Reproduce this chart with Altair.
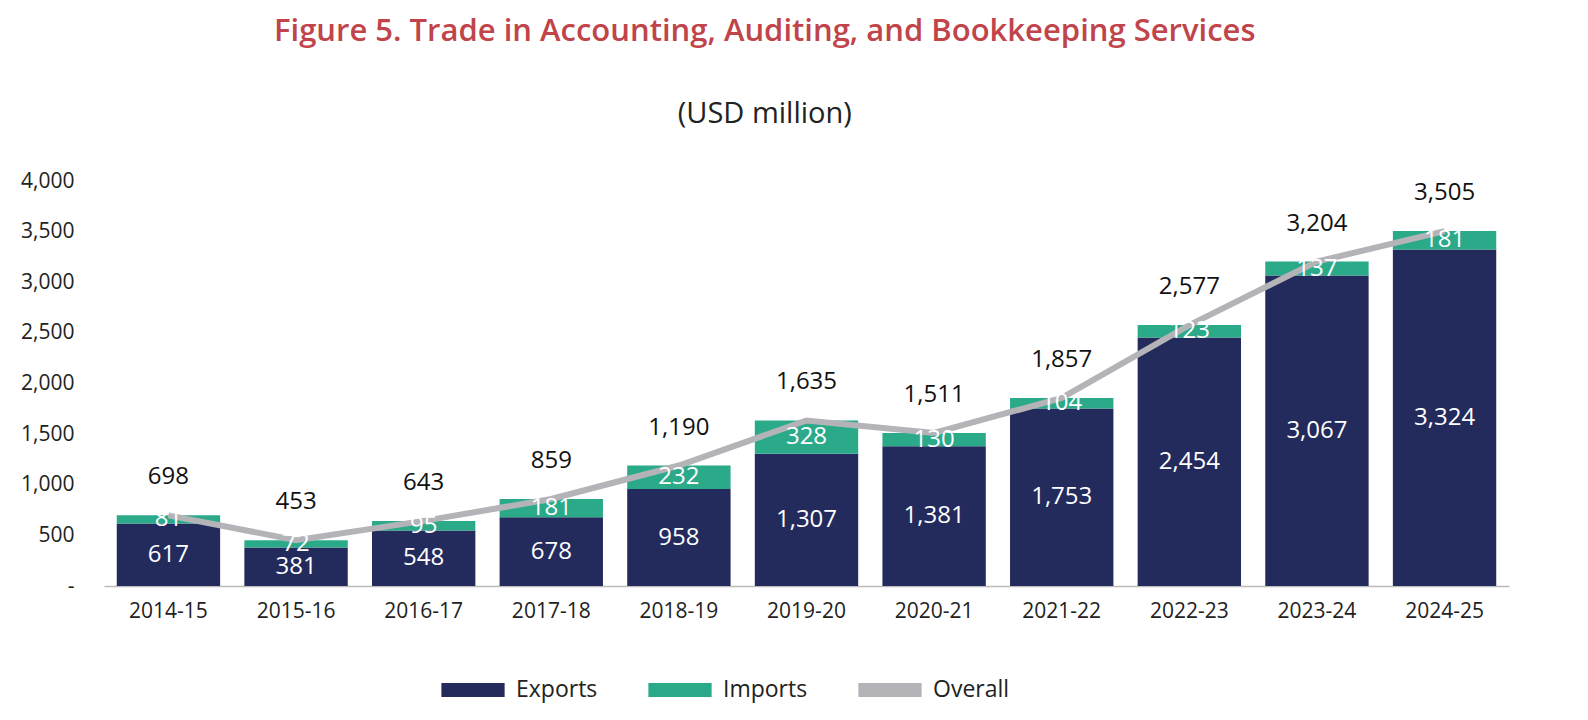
import altair as alt
import pandas as pd

years = ["2014-15", "2015-16", "2016-17", "2017-18", "2018-19", "2019-20",
         "2020-21", "2021-22", "2022-23", "2023-24", "2024-25"]
exports = [617, 381, 548, 678, 958, 1307, 1381, 1753, 2454, 3067, 3324]
imports = [81, 72, 95, 181, 232, 328, 130, 104, 123, 137, 181]
overall = [698, 453, 643, 859, 1190, 1635, 1511, 1857, 2577, 3204, 3505]

df = pd.DataFrame({"year": years, "Exports": exports, "Imports": imports, "total": overall})
df["exp_mid"] = df["Exports"] / 2
df["imp_mid"] = df["Exports"] + df["Imports"] / 2

long = df.melt(id_vars=["year"], value_vars=["Exports", "Imports"], var_name="series", value_name="value")
long["order"] = long["series"].map({"Exports": 0, "Imports": 1})

FONT = "Open Sans"
color = alt.Color(
    "series:N",
    scale=alt.Scale(domain=["Exports", "Imports", "Overall"], range=["#232A5C", "#2BAA8A", "#B4B4B8"]),
    legend=alt.Legend(title=None, orient="none", legendX=330, legendY=470, direction="horizontal",
                      symbolType="stroke", symbolStrokeWidth=14, symbolSize=4000,
                      labelFontSize=23, labelFont=FONT, labelColor="#222", columnPadding=22),
)

x = alt.X("year:N", sort=years, title=None,
          scale=alt.Scale(paddingInner=0.19, paddingOuter=0.1),
          axis=alt.Axis(labelAngle=0, labelFontSize=21, labelFont=FONT, labelColor="#222",
                        ticks=False, domainColor="#BBBBBB", domainWidth=1.5, labelPadding=14))
yscale = alt.Scale(domain=[0, 4000])

bars = alt.Chart(long).mark_bar().encode(
    x=x,
    y=alt.Y("value:Q", stack="zero", scale=yscale, title=None,
            axis=alt.Axis(values=list(range(0, 4001, 500)), grid=False, domain=False, ticks=False,
                          labelFontSize=21, labelFont=FONT, labelColor="#222", labelPadding=30,
                          labelExpr="datum.value == 0 ? '-' : format(datum.value, ',')")),
    color=color,
    order=alt.Order("order:Q"),
)

line_df = pd.DataFrame({"year": years, "value": overall, "series": ["Overall"] * len(years)})
line = alt.Chart(line_df).mark_line(strokeWidth=6).encode(
    x=alt.X("year:N", sort=years), y=alt.Y("value:Q", scale=yscale), color=color)

txt = dict(fontSize=24, font=FONT)
exp_lbl = alt.Chart(df).mark_text(color="white", **txt).encode(
    x=alt.X("year:N", sort=years), y="exp_mid:Q", text=alt.Text("Exports:Q", format=","))
imp_lbl = alt.Chart(df).mark_text(color="white", **txt).encode(
    x=alt.X("year:N", sort=years), y="imp_mid:Q", text=alt.Text("Imports:Q", format=","))
tot_lbl = alt.Chart(df).mark_text(color="#111", dy=-38, **txt).encode(
    x=alt.X("year:N", sort=years), y="total:Q", text=alt.Text("total:Q", format=","))

chart = alt.layer(bars, line, exp_lbl, imp_lbl, tot_lbl).properties(
    width=1405, height=405,
    padding={"left": 12, "top": 8, "right": 10, "bottom": 5},
    title=alt.TitleParams("Figure 5. Trade in Accounting, Auditing, and Bookkeeping Services",
                          subtitle="(USD million)", font=FONT, fontSize=31, fontWeight=600,
                          color="#C0444A", subtitleFont=FONT, subtitleFontSize=29,
                          subtitleColor="#222", subtitlePadding=52, offset=40,
                          anchor="middle", frame="bounds"),
).configure_view(stroke=None)

chart.save("out.html", embed_options={"renderer": "svg", "actions": False})
